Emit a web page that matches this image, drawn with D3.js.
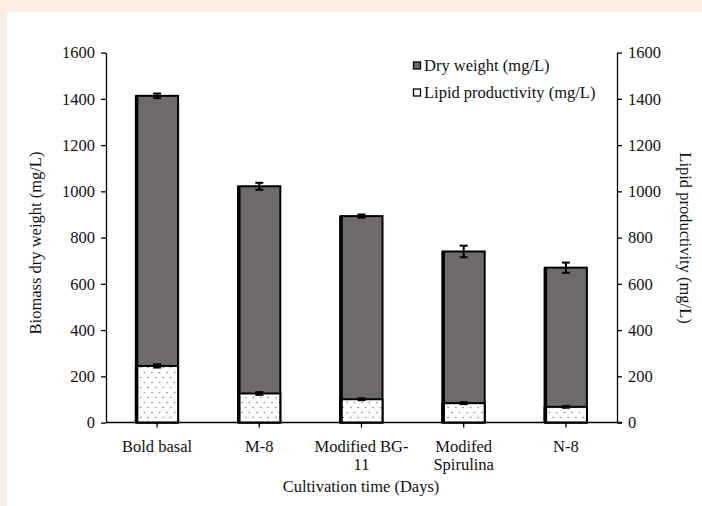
<!DOCTYPE html>
<html>
<head>
    <script type="text/javascript" src="https://cdn.jsdelivr.net/npm/d3@7/dist/d3.min.js" charset="utf-8"></script>
    <style>
        body { margin: 0; background: #fcede3; }
        svg { display: block; }
        text { font-family: "Liberation Serif", "Times New Roman", serif; fill: #111; }
    </style>
</head>
<body>
    <div id="viz"></div>
    <script type="text/javascript">
    //Data
    var categories = ["Bold basal", "M-8", "Modified BG-11", "Modifed Spirulina", "N-8"];
    var categoryLines = [["Bold basal"], ["M-8"], ["Modified BG-", "11"], ["Modifed", "Spirulina"], ["N-8"]];
    var dryWeight = [1413, 1022, 893, 740, 670];
    var dryWeightErr = [10, 15, 7, 25, 22];
    var lipid = [245, 126, 101, 84, 68];
    var lipidErr = [7, 6, 4, 4, 4];
    var yTicks = [0, 200, 400, 600, 800, 1000, 1200, 1400, 1600];

    var width = 702, height = 506;
    var plotLeft = 106, plotRight = 617, plotTop = 52.6, plotBottom = 422.6;

    var svg = d3.select("#viz").append("svg")
        .attr("width", width)
        .attr("height", height);

    //White panel
    svg.append("rect").attr("x", 7).attr("y", 12).attr("width", width - 7).attr("height", height - 12).attr("fill", "#fff");

    //Dot pattern for the lipid bars
    var pat = svg.append("defs").append("pattern")
        .attr("id", "dots").attr("patternUnits", "userSpaceOnUse")
        .attr("width", 7.5).attr("height", 10);
    pat.append("rect").attr("width", 7.5).attr("height", 10).attr("fill", "#fff");
    pat.append("circle").attr("cx", 2).attr("cy", 2.5).attr("r", 0.8).attr("fill", "#7a7a7a");
    pat.append("circle").attr("cx", 5.75).attr("cy", 7.5).attr("r", 0.8).attr("fill", "#7a7a7a");

    var x = d3.scaleBand().domain(categories).range([plotLeft, plotRight])
        .paddingInner(0.589).paddingOuter(0.589 / 2);
    var y = d3.scaleLinear().domain([0, 1600]).range([plotBottom, plotTop]);

    function styleAxis(g) {
        g.select(".domain").attr("stroke-width", 1.3);
        g.selectAll("line").attr("stroke-width", 1.3);
        g.selectAll("text").style("font-size", "16.5px").style("font-family", "Liberation Serif");
    }

    //Axes
    svg.append("g").attr("transform", "translate(" + plotLeft + ",0)")
        .call(d3.axisLeft(y).tickValues(yTicks).tickFormat(d3.format("d")).tickSize(5).tickPadding(6).tickSizeOuter(0))
        .call(styleAxis);
    svg.append("g").attr("transform", "translate(" + plotRight + ",0)")
        .call(d3.axisRight(y).tickValues(yTicks).tickFormat(d3.format("d")).tickSize(5).tickPadding(6).tickSizeOuter(0))
        .call(styleAxis);

    //Bars
    var bw = x.bandwidth();
    function drawBars(values, fill) {
        svg.selectAll(null).data(values).enter().append("rect")
            .attr("x", function(d, i) { return x(categories[i]); })
            .attr("y", function(d) { return y(d); })
            .attr("width", bw)
            .attr("height", function(d) { return y(0) - y(d); })
            .attr("fill", fill)
            .attr("stroke", "#000")
            .attr("stroke-width", 2);
        svg.selectAll(null).data(values).enter().append("line")
            .attr("x1", function(d, i) { return x(categories[i]) + 0.5; })
            .attr("x2", function(d, i) { return x(categories[i]) + 0.5; })
            .attr("y1", function(d) { return y(d); })
            .attr("y2", y(0))
            .attr("stroke", "#000")
            .attr("stroke-width", 3.5);
    }
    drawBars(dryWeight, "#6e6a6a");
    drawBars(lipid, "url(#dots)");

    //Error bars
    function drawErr(values, errs) {
        var g = svg.append("g").attr("stroke", "#000").attr("stroke-width", 2);
        values.forEach(function(v, i) {
            var cx = x(categories[i]) + bw / 2;
            g.append("line").attr("x1", cx).attr("x2", cx).attr("y1", y(v + errs[i])).attr("y2", y(v - errs[i]));
            g.append("line").attr("x1", cx - 4).attr("x2", cx + 4).attr("y1", y(v + errs[i])).attr("y2", y(v + errs[i]));
            g.append("line").attr("x1", cx - 4).attr("x2", cx + 4).attr("y1", y(v - errs[i])).attr("y2", y(v - errs[i]));
        });
    }
    drawErr(dryWeight, dryWeightErr);
    drawErr(lipid, lipidErr);

    //X axis line with ticks at category centers
    svg.append("line").attr("x1", plotLeft).attr("x2", plotRight + 5).attr("y1", y(0)).attr("y2", y(0))
        .attr("stroke", "#000").attr("stroke-width", 1.5);
    categories.forEach(function(c, i) {
        var cx = x(c) + bw / 2;
        svg.append("line").attr("x1", cx).attr("x2", cx).attr("y1", y(0)).attr("y2", y(0) + 5)
            .attr("stroke", "#000").attr("stroke-width", 1.3);
        var t = svg.append("text").attr("x", cx).attr("y", 452).attr("text-anchor", "middle")
            .style("font-size", "16.5px");
        categoryLines[i].forEach(function(s, k) {
            t.append("tspan").attr("x", cx).attr("dy", k === 0 ? 0 : 18).text(s);
        });
    });

    //Axis titles
    svg.append("text").attr("x", 361).attr("y", 492).attr("text-anchor", "middle")
        .style("font-size", "16.5px").text("Cultivation time (Days)");
    svg.append("text").attr("transform", "translate(41,243) rotate(-90)").attr("text-anchor", "middle")
        .style("font-size", "16.5px").text("Biomass dry weight (mg/L)");
    svg.append("text").attr("transform", "translate(680,238) rotate(90)").attr("text-anchor", "middle")
        .style("font-size", "16.5px").text("Lipid productivity (mg/L)");

    //Legend
    var legend = [["Dry weight (mg/L)", "#6e6a6a"], ["Lipid productivity (mg/L)", "#fff"]];
    legend.forEach(function(l, i) {
        var ly = 65.5 + i * 27;
        svg.append("rect").attr("x", 413.5).attr("y", ly - 3.5).attr("width", 7).attr("height", 7)
            .attr("fill", l[1]).attr("stroke", "#000").attr("stroke-width", 1.3);
        svg.append("text").attr("x", 424).attr("y", ly + 5.5).style("font-size", "16.5px").text(l[0]);
    });
    </script>
</body>
</html>
